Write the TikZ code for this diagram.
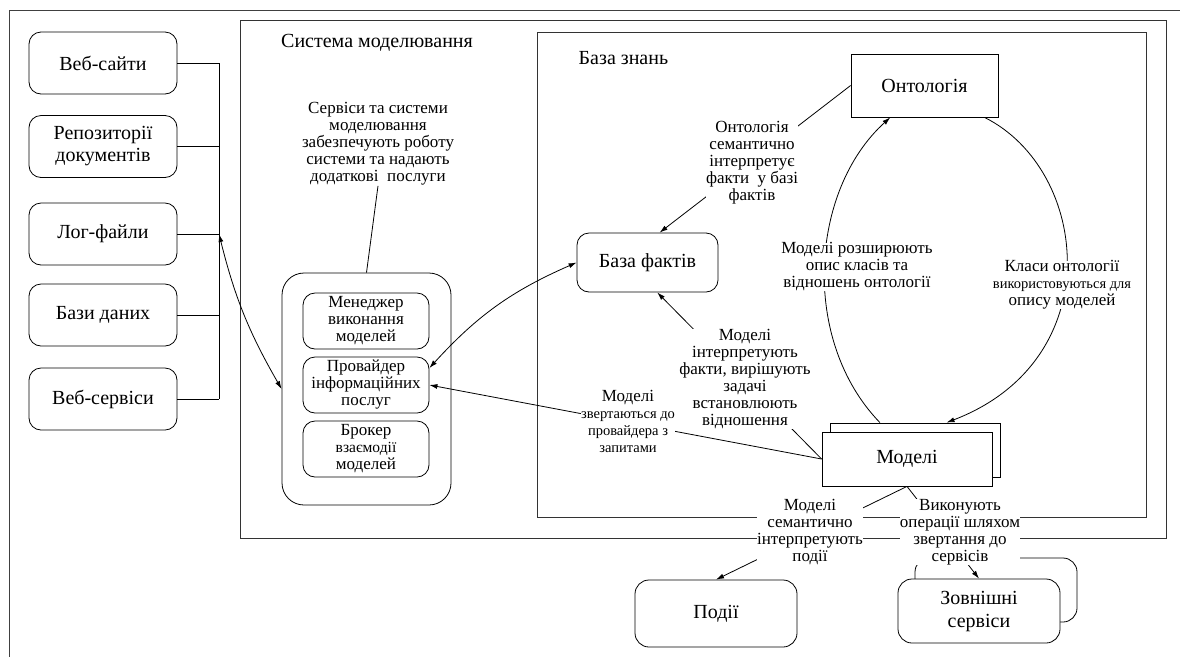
\documentclass[tikz,border=0pt]{standalone}
\usepackage{fontspec}
\setmainfont{Liberation Serif}
\usetikzlibrary{arrows.meta, calc, positioning}

\newcommand{\bigtxt}{\fontsize{20}{22}\selectfont}
\newcommand{\lbltxt}{\fontsize{17}{17}\selectfont}
\newcommand{\smalltxt}{\fontsize{14.5}{15}\selectfont}

\begin{document}
\begin{tikzpicture}[x=1pt, y=-1pt, line width=0.8pt,
	>={Latex[length=8pt,width=5pt]},
	srcbox/.style={draw, fill=white, rounded corners=12pt, minimum width=148pt, minimum height=62pt, align=center, font=\bigtxt},
	subbox/.style={draw, fill=white, rounded corners=12pt, minimum width=126pt, minimum height=56pt, align=center, inner sep=1pt, font=\fontsize{17}{17}\selectfont},
	mainbox/.style={draw, fill=white, align=center, font=\bigtxt},
	note/.style={fill=white, inner sep=0pt, align=center, font=\lbltxt}
	]
	\useasboundingbox (0,0) rectangle (1180,657);
	% outer frames
	\draw[black!75] (1180,10) -- (9,10) -- (9,657);
	\draw[black!80] (240,20) rectangle (1166,538);
	\draw[black!80] (537,32) rectangle (1146,517);
	\node[font=\bigtxt] (systitle) at (377,43) {Система моделювання};
	\node[font=\bigtxt, anchor=west] (kbtitle) at (575,58) {База знань};
	
	% sources
	\node[srcbox] (web) at (103,63) {Веб-сайти};
	\node[srcbox] (repo) at (103,146.5) {Репозиторії\\документів};
	\node[srcbox] (log) at (103,234) {Лог-файли};
	\node[srcbox] (db) at (103,315) {Бази даних};
	\node[srcbox] (wsvc) at (103,399) {Веб-сервіси};
	\coordinate (bus) at (219,0);
	\foreach \s in {web,repo,log,db,wsvc}
		\draw (\s.east) -- (\s.east -| bus);
	\draw (web.east -| bus) -- (wsvc.east -| bus);
	
	% services of the modelling system
	\node[draw, rounded corners=22pt, minimum width=169pt, minimum height=232pt] (svc) at (366.5,389) {};
	\node[subbox] (mgr) at (366,321) {Менеджер\\виконання\\моделей};
	\node[subbox] (prov) at (366,385) {Провайдер\\інформаційних\\послуг};
	\node[subbox] (brk) at (366,449) {Брокер\\{\fontsize{15.5}{17}\selectfont взаємодії}\\моделей};
	
	% knowledge base
	\node[mainbox, minimum width=147pt, minimum height=63pt] (ont) at (924.5,85.5) {Онтологія};
	\node[mainbox, rounded corners=12pt, minimum width=141pt, minimum height=59pt] (facts) at (647.5,262.5) {База фактів};
	\node[draw, fill=white, minimum width=170pt, minimum height=54pt] (modb) at (915,450) {};
	\node[mainbox, minimum width=170pt, minimum height=54pt] (mod) at (907,459) {Моделі};
	
	% external
	\node[mainbox, rounded corners=14pt, minimum width=162pt, minimum height=67pt] (ev) at (716,613.5) {Події};
	\node[draw, fill=white, rounded corners=14pt, minimum width=162pt, minimum height=64pt] (extb) at (996,590) {};
	\node[mainbox, rounded corners=14pt, minimum width=162pt, minimum height=64pt, font=\fontsize{20}{23}\selectfont] (ext) at (979,611) {Зовнішні\\сервіси};
	
	% connectors
	\draw[<->] (log.east -| bus) to[bend right=8] (svc.west);
	\draw[<->] (facts.west) to[bend right=12] (prov.15);
	\draw[->] (ont.west) -- (facts.68);
	\draw[->] (mod.west) -- (facts.-72);
	\draw[->] (mod.west) -- (prov.east);
	\draw[->] (modb.142) .. controls (800,340) and (810,190) .. (ont.-137);
	\draw[->] (ont.-28) .. controls (1090,170) and (1110,360) .. (modb.41);
	\draw[->] (mod.south) -- (ev.north);
	\draw[->] (mod.south) -- (ext.north);
	
	% notes
	\node[note] (svcnote) at (378,144) {Сервіси та системи\\моделювання\\забезпечують роботу\\системи та надають\\додаткові \ послуги};
	\draw (svcnote.south) -- (svc.north);
	\node[note] (ontnote) at (752,163) {Онтологія\\семантично\\інтерпретує\\факти \ у базі\\фактів};
	\node[note] (extnote) at (857,267) {Моделі розширюють\\опис класів та\\відношень онтології};
	\node[note] (clsnote) at (1062,285) {Класи онтології\\{\smalltxt використовуються для}\\опису моделей};
	\node[note] (factnote) at (745,379) {Моделі\\інтерпретують\\факти, вирішують\\задачі\\встановлюють\\відношення};
	\node[note] (reqnote) at (628,421) {Моделі\\{\smalltxt звертаються до}\\{\smalltxt провайдера з}\\{\smalltxt запитами}};
	\node[note] (evnote) at (810,532) {Моделі\\семантично\\інтерпретують\\події};
	\node[note] (opnote) at (960,532) {Виконують\\операції шляхом\\звертання до\\сервісів};
\end{tikzpicture}
\end{document}
